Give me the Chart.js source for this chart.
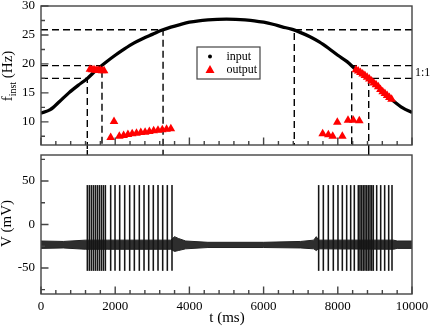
<!DOCTYPE html>
<html>
<head>
<meta charset="utf-8">
<script src="https://cdn.jsdelivr.net/npm/chart.js@4.4.0/dist/chart.umd.min.js"></script>
<style>
  html, body { margin: 0; padding: 0; background: #fff; }
  #wrap { position: relative; width: 431px; height: 327px; }
  #topBox { position: absolute; left: 0; top: 0; width: 431px; height: 150px; }
  #botBox { position: absolute; left: 0; top: 150px; width: 431px; height: 177px; }
</style>
</head>
<body>
<div id="wrap">
  <div id="topBox"><canvas id="topChart"></canvas></div>
  <div id="botBox"><canvas id="botChart"></canvas></div>
</div>
<script>
// ---- top panel: instantaneous frequency ----
const inputT = [0, 250, 500, 750, 1000, 1250, 1500, 1750, 2000, 2250, 2500, 2750, 3000, 3250, 3500, 3750, 4000, 4250, 4500, 4750, 5000,
                5250, 5500, 5750, 6000, 6250, 6500, 6750, 7000, 7250, 7500, 7750, 8000, 8250, 8500, 8750, 9000, 9250, 9500, 9750, 10000];
const inputF = [11.5, 12.1, 13.5, 15.0, 16.3, 17.5, 19.0, 20.3, 21.5, 22.6, 23.6, 24.4, 25.1, 25.8, 26.35, 26.8, 27.2, 27.45, 27.6, 27.7, 27.75,
                27.7, 27.6, 27.45, 27.2, 26.85, 26.4, 26.0, 25.4, 24.7, 23.8, 22.7, 21.5, 20.4, 18.95, 17.9, 16.55, 15.0, 13.6, 12.4, 11.6];

const outputT = [1320, 1375, 1430, 1485, 1540, 1595, 1650, 1700,
                 1878, 1968,
                 2111, 2227, 2343, 2458, 2574, 2690, 2806, 2921, 3037, 3153, 3269, 3384, 3500,
                 7592, 7745, 7863, 8122, 7987, 8275, 8418, 8580,
                 8490, 8550, 8610, 8670, 8730, 8790, 8850, 8910, 8970, 9030, 9090, 9150, 9210, 9270, 9330, 9390, 9450];
const outputF = [19.1, 19.0, 19.0, 18.9, 18.9, 18.9, 18.8, 18.8,
                 7.3, 10.05,
                 7.53, 7.65, 7.8, 7.93, 8.05, 8.15, 8.22, 8.35, 8.45, 8.55, 8.62, 8.7, 8.79,
                 7.93, 7.76, 7.53, 7.53, 9.94, 10.29, 10.29, 10.17,
                 19.0, 18.76, 18.5, 18.27, 18.0, 17.7, 17.4, 17.05, 16.7, 16.4, 16.05, 15.6, 15.2, 14.9, 14.55, 14.2, 13.9];

// dashed guides: level, crossing time, side the horizontal comes from, runs down into the lower panel
const guideT = [1248, 1644, 3290, 6827, 8375, 8833];
const guideF = [17.5, 19.7, 25.9, 25.9, 19.7, 17.5];
const guideSide = ['L', 'L', 'L', 'R', 'R', 'R'];
const guideDown = [true, false, true, false, false, true];

const topYTicks = [10, 15, 20, 25, 30];
const topYMinor = [7.5, 12.5, 17.5, 22.5, 27.5];

// ---- bottom panel: membrane potential ----
const spikeT = [1249, 1303, 1357, 1411, 1465, 1519, 1573, 1627, 1681, 1735,
                1878, 1995, 2121, 2256, 2390, 2516, 2650, 2777, 2903, 3027, 3154, 3280, 3405, 3531,
                7484, 7610, 7744, 7879, 8005, 8122, 8239, 8347, 8445,
                8553, 8598, 8643, 8688, 8733, 8778, 8823, 8868, 8913, 8957,
                9048, 9156, 9263, 9372, 9461];
const SPIKE_PEAK = 45;
const SPIKE_TROUGH = -53;

const bandT    = [0,     600,   1200,  1800,  3500,  3600, 3700, 3900, 4500,  6000,  7000,  7350, 7420, 7480, 9500,  9600,  10000];
const bandHigh = [-19,   -19.5, -18,   -18,   -18,   -14,  -16,  -19,  -20.5, -20.5, -19.5, -18,  -14,  -18,  -18,   -19,   -19];
const bandLow  = [-27.5, -27,   -28.5, -28.5, -28.5, -31,  -30,  -28,  -26.5, -26.5, -27,   -28,  -30,  -28,  -28.5, -27.5, -27.5];

const botYTicks = [-50, 0, 50];
const botYMinor = [-75, -25, 25, 75];

const xTicks = [0, 2000, 4000, 6000, 8000, 10000];
const xMinor = [];
for (let v = 400; v < 10000; v += 400) if (v % 2000) xMinor.push(v);

const SERIF = "'Liberation Serif', 'DejaVu Serif', serif";
const FRAME = '#444';
Chart.defaults.font.family = SERIF;
Chart.defaults.font.size = 13;
Chart.defaults.color = '#000';

// frame + inward tick marks
function framePlugin(yMajor, yMinor) {
  return {
    id: 'frameTicks',
    afterDatasetsDraw(chart) {
      const { ctx, chartArea: a } = chart;
      const xs = chart.scales.x, ys = chart.scales.y;
      ctx.save();
      ctx.strokeStyle = FRAME;
      ctx.lineWidth = 1.4;
      ctx.beginPath();
      xTicks.forEach(v => { const p = xs.getPixelForValue(v); ctx.moveTo(p, a.bottom); ctx.lineTo(p, a.bottom - 7.5); });
      xMinor.forEach(v => { const p = xs.getPixelForValue(v); ctx.moveTo(p, a.bottom); ctx.lineTo(p, a.bottom - 4); });
      yMajor.forEach(v => { const p = ys.getPixelForValue(v); ctx.moveTo(a.left, p); ctx.lineTo(a.left + 7.5, p); });
      yMinor.forEach(v => { const p = ys.getPixelForValue(v); ctx.moveTo(a.left, p); ctx.lineTo(a.left + 4, p); });
      ctx.stroke();
      ctx.strokeRect(a.left, a.top, a.right - a.left, a.bottom - a.top);
      ctx.restore();
    }
  };
}

function noPad(s) {
  s.paddingTop = 0; s.paddingBottom = 0; s.paddingLeft = 0; s.paddingRight = 0;
}

function guideStyle() {
  return { showLine: true, borderColor: '#000', borderWidth: 1.4, borderDash: [7, 4],
           pointRadius: 0, clip: false, tension: 0, fill: false };
}

const topLabels = {
  id: 'topLabels',
  afterDraw(chart) {
    const ctx = chart.ctx;
    ctx.save();
    // y title f_inst (Hz)
    ctx.translate(12, 76);
    ctx.rotate(-Math.PI / 2);
    ctx.fillStyle = '#000';
    ctx.textBaseline = 'alphabetic';
    ctx.font = '15px ' + SERIF;
    const wF = ctx.measureText('f').width;
    const wHz = ctx.measureText(' (Hz)').width;
    ctx.font = '10px ' + SERIF;
    const wSub = ctx.measureText('inst').width;
    let x0 = -(wF + wSub + wHz) / 2;
    ctx.font = '15px ' + SERIF;
    ctx.fillText('f', x0, 0);
    ctx.font = '10px ' + SERIF;
    ctx.fillText('inst', x0 + wF, 3.5);
    ctx.font = '15px ' + SERIF;
    ctx.fillText(' (Hz)', x0 + wF + wSub, 0);
    ctx.restore();

    // legend box
    ctx.save();
    ctx.fillStyle = '#fff';
    ctx.fillRect(197, 47, 63, 32);
    ctx.strokeStyle = FRAME;
    ctx.lineWidth = 1.2;
    ctx.strokeRect(197, 47, 63, 32);
    ctx.fillStyle = '#000';
    ctx.beginPath();
    ctx.arc(210, 56.5, 2, 0, Math.PI * 2);
    ctx.fill();
    ctx.fillStyle = '#ff0000';
    ctx.beginPath();
    ctx.moveTo(210, 65);
    ctx.lineTo(214.5, 73);
    ctx.lineTo(205.5, 73);
    ctx.closePath();
    ctx.fill();
    ctx.fillStyle = '#000';
    ctx.font = '12px ' + SERIF;
    ctx.textBaseline = 'middle';
    ctx.fillText('input', 226.5, 56.5);
    ctx.fillText('output', 226.5, 69.5);
    // 1:1 marker
    ctx.fillText('1:1', 415, 73);
    ctx.restore();
  }
};

const botLabels = {
  id: 'botLabels',
  afterDraw(chart) {
    const ctx = chart.ctx;
    ctx.save();
    ctx.fillStyle = '#000';
    ctx.font = '15px ' + SERIF;
    ctx.textAlign = 'center';
    ctx.textBaseline = 'alphabetic';
    ctx.fillText('t (ms)', 227, 171.5);
    ctx.translate(11, 73.5);
    ctx.rotate(-Math.PI / 2);
    ctx.fillText('V (mV)', 0, 0);
    ctx.restore();
  }
};

// ---- top chart ----
const topDatasets = [
  { label: 'output', data: outputT.map((t, i) => ({ x: t, y: outputF[i] })),
    pointStyle: 'triangle', pointRadius: 5, backgroundColor: '#ff0000', borderColor: '#ff0000', borderWidth: 0 },
  { label: 'input', data: inputT.map((t, i) => ({ x: t, y: inputF[i] })),
    showLine: true, borderColor: '#000', borderWidth: 3.3, pointRadius: 0, cubicInterpolationMode: 'monotone' }
];
guideT.forEach((t, i) => {
  topDatasets.push(Object.assign(guideStyle(), {
    data: [{ x: guideSide[i] === 'L' ? 0 : 10000, y: guideF[i] }, { x: t, y: guideF[i] }, { x: t, y: guideDown[i] ? 4 : 6 }]
  }));
});

new Chart(document.getElementById('topChart'), {
  type: 'scatter',
  data: { datasets: topDatasets },
  options: {
    responsive: true, maintainAspectRatio: false, animation: false, devicePixelRatio: 1,
    layout: { padding: { left: 0, right: 19, top: 6, bottom: 4 } },
    plugins: { legend: { display: false }, tooltip: { enabled: false } },
    scales: {
      x: { type: 'linear', min: 0, max: 10000, display: false },
      y: {
        min: 6, max: 30,
        grid: { display: false, drawTicks: false }, border: { display: false },
        ticks: { padding: 6, autoSkip: false, callback: v => String(v) },
        afterBuildTicks: s => { s.ticks = topYTicks.map(v => ({ value: v })); },
        afterFit: s => { s.width = 41; noPad(s); }
      }
    }
  },
  plugins: [framePlugin(topYTicks, topYMinor), topLabels]
});

// ---- bottom chart ----
const botDatasets = [
  { type: 'bar', data: spikeT.map(t => ({ x: t, y: [SPIKE_TROUGH, SPIKE_PEAK] })),
    backgroundColor: '#151515', borderWidth: 0, barThickness: 0.9 },
  { type: 'line', data: bandT.map((t, i) => ({ x: t, y: bandLow[i] })),
    borderColor: '#222', borderWidth: 1, pointRadius: 0, fill: false, tension: 0 },
  { type: 'line', data: bandT.map((t, i) => ({ x: t, y: bandHigh[i] })),
    borderColor: '#222', borderWidth: 1, pointRadius: 0, fill: '-1', backgroundColor: '#2e2e2e', tension: 0 }
];
guideT.forEach((t, i) => {
  if (!guideDown[i]) return;
  botDatasets.push(Object.assign(guideStyle(), { type: 'line', data: [{ x: t, y: 80 }, { x: t, y: 92 }] }));
});

new Chart(document.getElementById('botChart'), {
  type: 'bar',
  data: { datasets: botDatasets },
  options: {
    responsive: true, maintainAspectRatio: false, animation: false, devicePixelRatio: 1,
    layout: { padding: { left: 0, right: 19, top: 5, bottom: 0 } },
    plugins: { legend: { display: false }, tooltip: { enabled: false } },
    scales: {
      x: {
        type: 'linear', min: 0, max: 10000, offset: false,
        grid: { display: false, drawTicks: false }, border: { display: false },
        ticks: { padding: 5, autoSkip: false, maxRotation: 0, callback: v => String(v) },
        afterBuildTicks: s => { s.ticks = xTicks.map(v => ({ value: v })); },
        afterFit: s => { s.height = 33; noPad(s); }
      },
      y: {
        min: -80, max: 80,
        grid: { display: false, drawTicks: false }, border: { display: false },
        ticks: { padding: 6, autoSkip: false, callback: v => String(v) },
        afterBuildTicks: s => { s.ticks = botYTicks.map(v => ({ value: v })); },
        afterFit: s => { s.width = 41; noPad(s); }
      }
    }
  },
  plugins: [framePlugin(botYTicks, botYMinor), botLabels]
});
</script>
</body>
</html>
